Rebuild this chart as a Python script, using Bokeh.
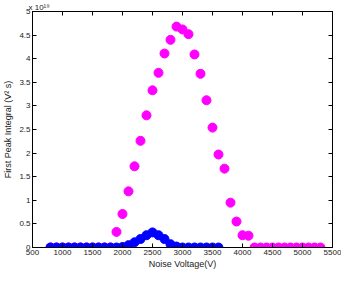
from bokeh.plotting import figure
from bokeh.models import LinearAxis, Range1d, FixedTicker
from bokeh.embed import file_html
from bokeh.resources import INLINE

# Data (y values in units of 1e19 V^2 s)
voltage_magenta = [800, 900, 1000, 1100, 1200, 1300, 1400, 1500, 1600, 1700, 1800,
                   1900, 2000, 2100, 2200, 2300, 2400, 2500, 2600, 2700, 2800,
                   2900, 3000, 3100, 3200, 3300, 3400, 3500, 3600, 3700, 3800,
                   3900, 4000, 4100, 4200, 4300, 4400, 4500, 4600, 4700, 4800,
                   4900, 5000, 5100, 5200, 5300]
integral_magenta = [0, 0, 0, 0, 0, 0, 0, 0, 0, 0, 0,
                    0.33, 0.71, 1.19, 1.72, 2.26, 2.80, 3.33, 3.70, 4.11, 4.40,
                    4.68, 4.62, 4.52, 4.09, 3.68, 3.12, 2.54, 1.97, 1.67, 0.95,
                    0.55, 0.26, 0.25, 0, 0, 0, 0, 0, 0, 0,
                    0, 0, 0, 0, 0]
voltage_blue = [800, 900, 1000, 1100, 1200, 1300, 1400, 1500, 1600, 1700, 1800,
                1900, 2000, 2100, 2200, 2300, 2400, 2500, 2600, 2700, 2800,
                2900, 3000, 3100, 3200, 3300, 3400, 3500, 3600]
integral_blue = [0, 0, 0, 0, 0, 0, 0, 0, 0, 0, 0,
                 0, 0.01, 0.05, 0.11, 0.18, 0.26, 0.32, 0.26, 0.18, 0.07,
                 0.02, 0, 0, 0, 0, 0, 0, 0]

x_ticks = [500, 1000, 1500, 2000, 2500, 3000, 3500, 4000, 4500, 5000, 5500]
y_ticks = [0, 0.5, 1, 1.5, 2, 2.5, 3, 3.5, 4, 4.5, 5]
exponent_text = "x 10¹⁹"

FONT = "Liberation Sans"
TEXT_COLOR = "#222222"

p = figure(width=341, height=271, output_backend="svg", toolbar_location=None,
           x_range=Range1d(500, 5500), y_range=Range1d(0, 5),
           min_border_left=0, min_border_right=9, min_border_top=0, min_border_bottom=0)
p.grid.visible = False
p.outline_line_color = "black"
p.background_fill_color = "white"
p.border_fill_color = "white"

p.title.text = exponent_text
p.title.text_font = FONT
p.title.text_font_size = "8px"
p.title.text_font_style = "normal"
p.title.text_color = TEXT_COLOR
p.title.align = "left"
p.title.standoff = 0
p.title.offset = -4

p.scatter(voltage_magenta, integral_magenta, size=9, color="#FF00FF", line_width=1)
p.scatter(voltage_blue, integral_blue, size=9, color="#0000FF", line_width=1)

def style(ax, labels=True):
    ax.major_tick_in = 4
    ax.major_tick_out = 0
    ax.minor_tick_line_color = None
    ax.axis_line_color = "black"
    ax.major_tick_line_color = "black"
    if labels:
        ax.major_label_text_font = FONT
        ax.major_label_text_font_size = "8px"
        ax.major_label_text_color = TEXT_COLOR
        ax.major_label_standoff = 2
        ax.axis_label_text_font = FONT
        ax.axis_label_text_font_size = "9px"
        ax.axis_label_text_font_style = "normal"
        ax.axis_label_text_color = TEXT_COLOR
        ax.axis_label_standoff = 1
    else:
        ax.major_label_text_font_size = "1px"
        ax.major_label_text_color = None
        ax.major_label_standoff = 0

xa = p.xaxis[0]
xa.ticker = FixedTicker(ticks=x_ticks)
xa.axis_label = "Noise Voltage(V)"
style(xa)
ya = p.yaxis[0]
ya.ticker = FixedTicker(ticks=y_ticks)
ya.axis_label = "First Peak Integral (V² s)"
style(ya)
ya.axis_label_standoff = 3

top = LinearAxis(ticker=FixedTicker(ticks=x_ticks))
style(top, labels=False)
p.add_layout(top, "above")
right = LinearAxis(ticker=FixedTicker(ticks=y_ticks))
style(right, labels=False)
p.add_layout(right, "right")

open("out.html", "w").write(file_html(p, INLINE))
